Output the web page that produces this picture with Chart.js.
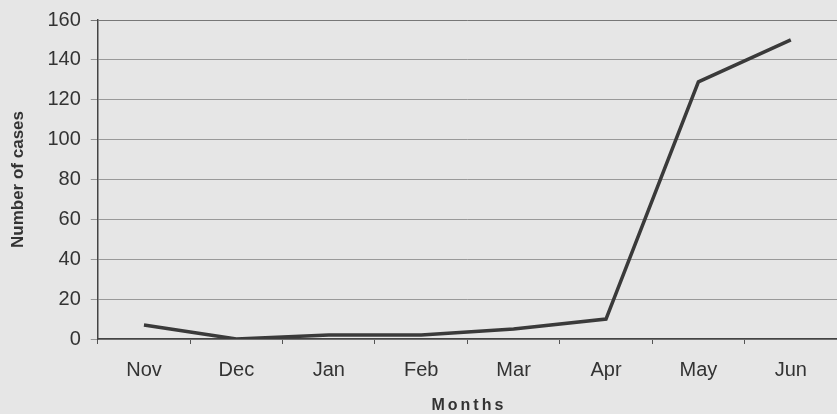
<!DOCTYPE html>
<html>
<head>
<meta charset="utf-8">
<script src="https://cdn.jsdelivr.net/npm/chart.js@4.4.0/dist/chart.umd.min.js"></script>
<style>
html,body{margin:0;padding:0;background:#e6e6e6;}
#wrap{width:837px;height:414px;position:relative;}
</style>
</head>
<body>
<div id="wrap"><canvas id="c" width="837" height="414"></canvas></div>
<script>
const months = ["Nov","Dec","Jan","Feb","Mar","Apr","May","Jun"];
const cases = [7, 0, 2, 2, 5, 10, 129, 150];
const yTicks = [0,20,40,60,80,100,120,140,160];
const xTitle = "Months";

const bgPlugin = {
  id:'bg',
  beforeDraw(chart){
    const ctx=chart.ctx; ctx.save(); ctx.fillStyle='#e6e6e6';
    ctx.fillRect(0,0,chart.width,chart.height); ctx.restore();
  },
  afterDraw(chart){
    const ctx=chart.ctx; const a=chart.chartArea;
    ctx.save();
    ctx.font='bold 16px "Liberation Sans"';
    ctx.fillStyle='#333';
    ctx.textAlign='center';
    ctx.textBaseline='alphabetic';
    ctx.letterSpacing='3px';
    ctx.fillText(xTitle, (a.left+a.right)/2 + 1.5, 410);
    ctx.restore();
  }
};

new Chart(document.getElementById('c'), {
  type:'line',
  data:{labels:months, datasets:[{data:cases, borderColor:'#3a3a3a', borderWidth:3.5, pointRadius:0, tension:0, fill:false}]},
  options:{
    responsive:false, animation:false,
    layout:{padding:{top:0,right:0,bottom:18,left:8}},
    plugins:{legend:{display:false}, tooltip:{enabled:false}},
    scales:{
      x:{
        offset:true,
        grid:{display:true, drawOnChartArea:false, drawTicks:true, tickLength:5, offset:true, color:'#555'},
        border:{display:true, color:'#444', width:1.5},
        ticks:{color:'#333', font:{family:'Liberation Sans', size:20}, padding:14, maxRotation:0},
        title:{display:false}
      },
      y:{
        min:0, max:160,
        afterBuildTicks(axis){ axis.ticks = yTicks.map(v=>({value:v})); },
        grid:{color:(c)=> c.tick && c.tick.value===160 ? '#777' : '#999', lineWidth:1, tickLength:7, drawTicks:true},
        border:{display:true, color:'#444', width:1.5},
        ticks:{color:'#333', font:{family:'Liberation Sans', size:20, lineHeight:1}, padding:10},
        title:{display:true, text:'Number of cases', color:'#333', font:{family:'Liberation Sans', size:17, weight:'bold'}, padding:{top:0,bottom:9}}
      }
    }
  },
  plugins:[bgPlugin]
});
</script>
</body>
</html>
